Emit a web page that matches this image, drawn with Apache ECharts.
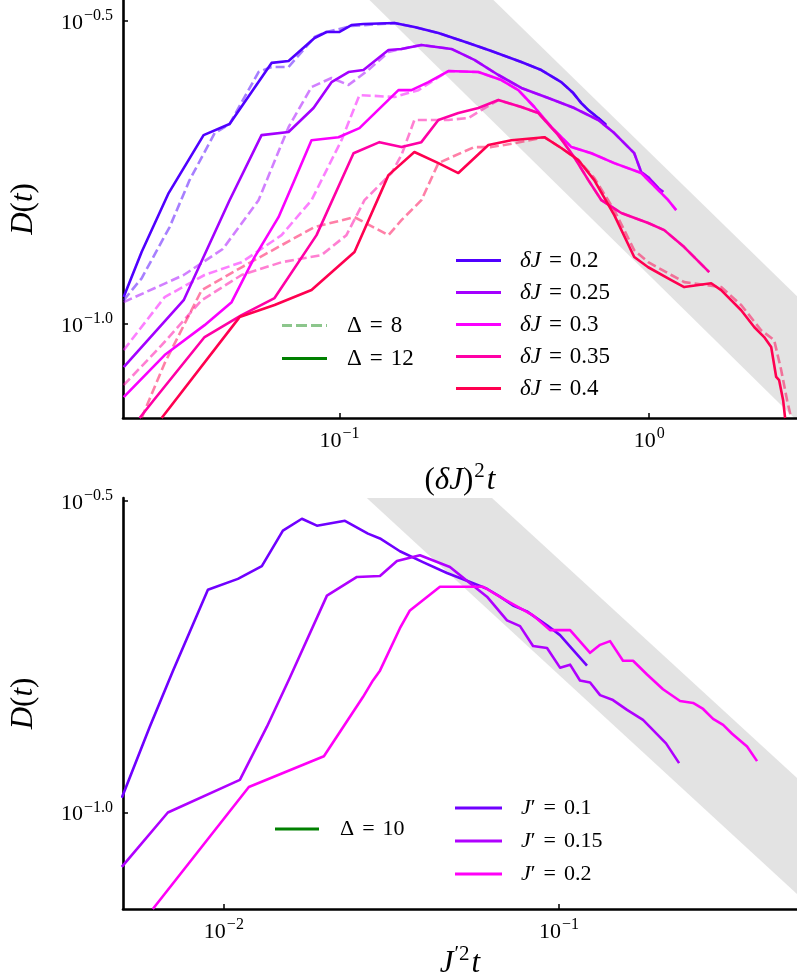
<!DOCTYPE html>
<html><head><meta charset="utf-8">
<script src="https://cdn.jsdelivr.net/npm/echarts@6/dist/echarts.min.js"></script>
<style>html,body{margin:0;padding:0;background:#fff}#c{width:797px;height:980px}</style>
</head><body><div id="c"></div>
<script>
// ---------- tick values ----------
const topXTicks = [0.1, 1];
const topYTicks = [0.1, 0.316228];
const botXTicks = [0.01, 0.1];
const botYTicks = [0.1, 0.316228];

// ---------- shaded bands (vertices, data units) ----------
const topBand = [[0.125,0.3425],[0.314,0.3425],[3.0,0.1112],[3.0,0.07],[2.94,0.07]];
const botBand = [[0.0267,0.3197],[0.0631,0.3197],[0.513,0.1136],[0.513,0.074]];

// ---------- top panel, Delta = 12 (solid) ----------
const s02 = [[0.0201,0.1108],[0.02297,0.1315],[0.02808,0.1645],[0.03641,0.2050],[0.04417,0.2138],[0.06035,0.2697],[0.06848,0.2716],[0.08307,0.2965],[0.0908,0.3033],[0.1,0.3033],[0.1093,0.3114],[0.1195,0.3126],[0.1505,0.3138],[0.1745,0.3091],[0.2086,0.3021],[0.2607,0.2909],[0.3093,0.2822],[0.3865,0.2706],[0.4482,0.2625],[0.52,0.2507],[0.5685,0.2405],[0.6035,0.2315],[0.6359,0.2255],[0.6847,0.2188],[0.7267,0.2130]];
const s025 = [[0.0201,0.0849],[0.0314,0.1095],[0.04417,0.1601],[0.05602,0.2050],[0.06848,0.2074],[0.08244,0.2272],[0.09424,0.2507],[0.1069,0.2605],[0.1195,0.2625],[0.1439,0.2833],[0.1585,0.2844],[0.1838,0.2887],[0.2298,0.2844],[0.2726,0.2728],[0.3258,0.2576],[0.3865,0.2452],[0.4723,0.2360],[0.5728,0.2272],[0.6847,0.2171],[0.7712,0.2066],[0.8946,0.1914],[0.9423,0.1781],[0.9926,0.1747],[1.069,0.1677],[1.110,0.1652]];
const s03 = [[0.0201,0.0758],[0.02726,0.0889],[0.03668,0.0996],[0.04484,0.1087],[0.05318,0.1290],[0.06355,0.1501],[0.0716,0.1728],[0.08122,0.2011],[0.09926,0.2034],[0.1160,0.2105],[0.1550,0.2432],[0.1707,0.2432],[0.1937,0.2507],[0.2247,0.2615],[0.2808,0.2605],[0.3333,0.2527],[0.3780,0.2432],[0.4256,0.2281],[0.4833,0.2113],[0.5608,0.1959],[0.6506,0.1914],[0.7712,0.1843],[0.9423,0.1775],[1.152,0.1601],[1.222,0.1542]];
const s035 = [[0.02263,0.07],[0.02512,0.0749],[0.03668,0.0952],[0.0483,0.1035],[0.06171,0.1104],[0.08431,0.1402],[0.1110,0.1914],[0.1346,0.1996],[0.1585,0.1959],[0.1838,0.1996],[0.2086,0.2171],[0.2420,0.2229],[0.2808,0.2272],[0.3258,0.2342],[0.3865,0.2281],[0.4385,0.2229],[0.5086,0.2050],[0.5728,0.1885],[0.6359,0.1728],[0.7008,0.1601],[0.8123,0.1525],[0.9926,0.1468],[1.118,0.1429],[1.297,0.1340],[1.562,0.1218]];
const s04 = [[0.02666,0.07],[0.04758,0.1027],[0.06171,0.1075],[0.08122,0.1138],[0.1118,0.1315],[0.1439,0.1761],[0.1745,0.1923],[0.2086,0.1843],[0.2420,0.1775],[0.3024,0.1974],[0.3590,0.2011],[0.4585,0.2034],[0.52,0.1952],[0.5902,0.1865],[0.6646,0.1728],[0.7712,0.1513],[0.8946,0.1290],[0.9926,0.1241],[1.178,0.1182],[1.297,0.1151],[1.585,0.1168],[1.707,0.1138],[1.981,0.1054],[2.182,0.0989],[2.350,0.0952],[2.476,0.0917],[2.570,0.0818],[2.627,0.0808],[2.706,0.0749],[2.746,0.07]];

// ---------- top panel, Delta = 8 (dashed) ----------
const d02 = [[0.0201,0.1095],[0.02297,0.1190],[0.02829,0.1446],[0.03281,0.1728],[0.03953,0.2066],[0.04417,0.2138],[0.05478,0.2605],[0.06035,0.2655],[0.06848,0.2655],[0.08307,0.2976],[0.0908,0.3033],[0.1093,0.3102],[0.1505,0.3138],[0.1745,0.3091],[0.2086,0.3021],[0.2607,0.2909],[0.3093,0.2822],[0.3865,0.2706],[0.4482,0.2625],[0.52,0.2507],[0.5685,0.2405],[0.6035,0.2315],[0.6359,0.2255],[0.6847,0.2188],[0.7267,0.2130]];
const d025 = [[0.0201,0.1087],[0.0314,0.1205],[0.0420,0.1330],[0.05478,0.1601],[0.06848,0.2113],[0.08122,0.2461],[0.09424,0.2547],[0.1069,0.2480],[0.1240,0.2625],[0.1439,0.2811],[0.1585,0.2844],[0.1838,0.2887],[0.2298,0.2844],[0.2726,0.2728],[0.3258,0.2576],[0.3865,0.2452],[0.4723,0.2360],[0.5728,0.2272],[0.6847,0.2171],[0.7712,0.2066],[0.8946,0.1914],[0.9423,0.1781],[0.9926,0.1747],[1.069,0.1677],[1.110,0.1652]];
const d03 = [[0.0201,0.0906],[0.02726,0.1108],[0.03668,0.1205],[0.0483,0.1265],[0.065,0.1402],[0.08122,0.1601],[0.1015,0.2011],[0.1160,0.2387],[0.1505,0.2369],[0.1799,0.2432],[0.2247,0.2615],[0.2808,0.2605],[0.3333,0.2527],[0.3780,0.2432],[0.4256,0.2281],[0.4833,0.2113],[0.5608,0.1959],[0.6506,0.1914],[0.7712,0.1843],[0.9423,0.1775],[1.152,0.1601],[1.222,0.1542]];
const d035 = [[0.0201,0.0793],[0.02666,0.0923],[0.0359,0.1095],[0.0483,0.1205],[0.065,0.1265],[0.0875,0.1300],[0.1053,0.1402],[0.1204,0.1601],[0.1472,0.1775],[0.1585,0.1900],[0.1745,0.2171],[0.2247,0.2171],[0.2607,0.2188],[0.2872,0.2255],[0.3258,0.2342],[0.3865,0.2281],[0.4385,0.2229],[0.5086,0.2050],[0.5728,0.1885],[0.6359,0.1728],[0.7008,0.1601],[0.8123,0.1525],[0.9926,0.1468],[1.118,0.1429],[1.297,0.1340],[1.562,0.1218]];
const d04 = [[0.02297,0.07],[0.02726,0.0862],[0.0359,0.1138],[0.0483,0.1241],[0.08307,0.1446],[0.1118,0.1501],[0.1439,0.1402],[0.1585,0.1484],[0.1838,0.1601],[0.2086,0.1843],[0.2298,0.1885],[0.2726,0.1959],[0.3093,0.1959],[0.3668,0.1988],[0.4585,0.2034],[0.52,0.1952],[0.5902,0.1865],[0.6646,0.1742],[0.7712,0.1542],[0.8946,0.1324],[0.9926,0.1265],[1.178,0.1205],[1.297,0.1173],[1.707,0.1151],[1.981,0.1075],[2.298,0.0977],[2.531,0.0941],[2.667,0.0840],[2.787,0.0749],[2.873,0.07]];

// ---------- bottom panel, Delta = 10 ----------
const j01 = [[0.00496,0.1056],[0.00601,0.1373],[0.00705,0.1689],[0.00896,0.2278],[0.01101,0.2371],[0.01298,0.2486],[0.0150,0.2834],[0.01709,0.2961],[0.01895,0.2886],[0.02297,0.2939],[0.02691,0.2803],[0.02922,0.2753],[0.03352,0.2626],[0.03926,0.2522],[0.0463,0.2423],[0.05313,0.2354],[0.06095,0.2286],[0.06665,0.2220],[0.0729,0.2149],[0.08023,0.2103],[0.09209,0.1997],[0.1007,0.1926],[0.1101,0.1824],[0.1212,0.1721]];
const j015 = [[0.00496,0.0818],[0.006805,0.1],[0.01116,0.1128],[0.01344,0.1373],[0.01574,0.1647],[0.0203,0.2229],[0.02495,0.2388],[0.02922,0.2397],[0.03284,0.2532],[0.03846,0.2588],[0.04726,0.2477],[0.05313,0.2354],[0.06095,0.2220],[0.06995,0.2034],[0.0765,0.1991],[0.08366,0.1850],[0.09209,0.1837],[0.1007,0.1708],[0.1079,0.1727],[0.1155,0.1629],[0.1238,0.1617],[0.1326,0.1543],[0.1449,0.1515],[0.1596,0.1461],[0.1781,0.1408],[0.2086,0.1291],[0.2282,0.1200]];
const j02 = [[0.006138,0.07],[0.01187,0.1099],[0.01988,0.1231],[0.026,0.1532],[0.02785,0.1629],[0.02922,0.1689],[0.03352,0.1976],[0.0359,0.2110],[0.04413,0.2303],[0.05932,0.2303],[0.06805,0.2204],[0.08366,0.2072],[0.094,0.1962],[0.1079,0.1962],[0.1238,0.1804],[0.1326,0.1858],[0.142,0.1884],[0.1552,0.1752],[0.1663,0.1752],[0.1831,0.1665],[0.2043,0.1577],[0.2297,0.151],[0.2512,0.1499],[0.2691,0.1466],[0.2882,0.1413],[0.3088,0.1382],[0.3284,0.1338],[0.364,0.1276],[0.3899,0.1209]];

// ---------- labels / colours ----------
const topNames = ['δJ = 0.2','δJ = 0.25','δJ = 0.3','δJ = 0.35','δJ = 0.4'];
const topColors = ['#5000ff','#a400ff','#fa00ff','#ff00a6','#ff0050'];
const topDashColors = ['rgba(80,0,255,0.5)','rgba(164,0,255,0.5)','rgba(250,0,255,0.5)','rgba(255,0,166,0.5)','rgba(255,0,80,0.5)'];
const botNames = ['J′ = 0.1','J′ = 0.15','J′ = 0.2'];
const botColors = ['#7000ff','#b000ff','#ff00f8'];
const deltaTop = ['Δ = 8','Δ = 12'];
const deltaBot = ['Δ = 10'];

const SERIF = "'Liberation Serif','DejaVu Serif',serif";
const SOLID_ICON = 'path://M0,0H45V3H0Z';
const DASH_ICON = 'path://M0,0H10V3H0Z M14,0H25V3H14Z M29,0H40V3H29Z M44,0H45V3H44Z';
const chart = echarts.init(document.getElementById('c'), null, {renderer:'canvas'});

function supLabel(v, dec){
  const e = Math.log10(v);
  let s = dec ? e.toFixed(1) : String(Math.round(e));
  if (s === '-0') s = '0';
  return '{b|10}{e|' + s.replace('-', '−') + '}';
}
const tickRich = {
  b:{fontFamily:SERIF,fontSize:22,color:'#000',verticalAlign:'bottom',lineHeight:26},
  e:{fontFamily:SERIF,fontSize:16,color:'#000',verticalAlign:'bottom',lineHeight:26,padding:[0,0,10,1]}
};
const nameRich = {
  p:{fontFamily:SERIF,fontSize:31,color:'#000',verticalAlign:'bottom',lineHeight:36},
  i:{fontFamily:SERIF,fontStyle:'italic',fontSize:31,color:'#000',verticalAlign:'bottom',lineHeight:36},
  s:{fontFamily:SERIF,fontSize:21,color:'#000',verticalAlign:'bottom',lineHeight:36,padding:[0,2,14,1]}
};
function logAxis(gi, min, max, ticks, dec, name, gap, isY){
  const a = {
    type:'log', logBase:10, gridIndex:gi, min:min, max:max,
    axisLine:{show:true,lineStyle:{color:'#000',width:2.6}},
    axisTick:{show:true,inside:true,length:5,lineStyle:{color:'#000',width:1.5},customValues:ticks},
    axisLabel:{show:true,customValues:ticks,margin:isY?10:8,formatter:(v)=>supLabel(v,dec),rich:tickRich},
    splitLine:{show:false}, minorTick:{show:false},
    name:name, nameLocation:'middle', nameGap:gap, nameTextStyle:{rich:nameRich}
  };
  if (isY) a.nameRotate = 90;
  return a;
}
function lineS(name, data, color, dashed, idx, z){
  return {type:'line', name:name, data:data, xAxisIndex:idx, yAxisIndex:idx, symbol:'none', showSymbol:false,
    clip:true, silent:true, animation:false, z:z,
    lineStyle:{color:color, width:2.6, type: dashed ? [9,4] : 'solid', cap:'butt', join:'round'},
    itemStyle:{color:color, borderWidth:0}};
}
function bandS(vertices, idx){
  return {type:'custom', xAxisIndex:idx, yAxisIndex:idx, data:[[vertices[0][0], vertices[0][1]]], clip:true, silent:true, z:0, animation:false,
    renderItem:(params, api)=>({type:'polygon', shape:{points:vertices.map(p=>api.coord(p))}, style:{fill:'#e3e3e3'}})};
}
function legendFmt(name){
  const parts = name.split(' = ');
  let lhs = parts[0];
  if (lhs === 'δJ') lhs = '{i|δJ}';
  else if (lhs === 'J′') lhs = '{i|J}{n|′}';
  else lhs = '{n|' + lhs + '}';
  return '{g| }' + lhs + '{q|=}{n|' + parts[1] + '}';
}
function legendRich(gap, fs){
  return {
    g:{width:gap, fontSize:10, lineHeight:22},
    i:{fontFamily:SERIF,fontStyle:'italic',fontSize:fs,color:'#000',lineHeight:22},
    n:{fontFamily:SERIF,fontSize:fs,color:'#000',lineHeight:22},
    q:{fontFamily:SERIF,fontSize:fs,color:'#000',lineHeight:22,padding:[0,8,0,8]}
  };
}
function legendC(names, dashedSet, left, top, itemWidth, itemGap, gap, fs){
  return {data:names.map(n=>({name:n, icon: dashedSet.indexOf(n) >= 0 ? DASH_ICON : SOLID_ICON})),
    left:left, top:top, orient:'vertical', itemWidth:itemWidth, itemHeight:3, itemGap:itemGap, symbolKeepAspect:false,
    padding:0, selectedMode:false, formatter:legendFmt, itemStyle:{borderWidth:0}, textStyle:{rich:legendRich(gap, fs)}};
}

const topDashed = [d02,d025,d03,d035,d04];
const topSolid = [s02,s025,s03,s035,s04];
const series = [bandS(topBand,0), bandS(botBand,1)];
topDashed.forEach((d,k)=>series.push(lineS(topNames[k]+' dashed', d, topDashColors[k], true, 0, 2)));
topSolid.forEach((d,k)=>series.push(lineS(topNames[k], d, topColors[k], false, 0, 3)));
[j01,j015,j02].forEach((d,k)=>series.push(lineS(botNames[k], d, botColors[k], false, 1, 3)));
series.push(lineS(deltaTop[0], [], 'rgba(0,128,0,0.45)', true, 0, 3));
series.push(lineS(deltaTop[1], [], '#008000', false, 0, 3));
series.push(lineS(deltaBot[0], [], '#008000', false, 1, 3));

chart.setOption({
  animation:false,
  backgroundColor:'#fff',
  grid:[
    {left:122, right:0, top:0, height:418, containLabel:false},
    {left:122, right:0, top:498, height:417, containLabel:false}
  ],
  xAxis:[
    logAxis(0, 0.02, 3, topXTicks, false, '{p|(}{i|δJ}{p|)}{s|2}{i|t}', 42, false),
    logAxis(1, 0.005, 0.513, botXTicks, false, '{i|J}{s|′2}{i|t}', 34, false)
  ],
  yAxis:[
    logAxis(0, 0.07, 0.3425, topYTicks, true, '{i|D}{p|(}{i|t}{p|)}', 84, true),
    logAxis(1, 0.07, 0.3197, botYTicks, true, '{i|D}{p|(}{i|t}{p|)}', 84, true)
  ],
  legend:[
    legendC(topNames, [], 456, 249, 45, 9, 14, 23),
    legendC(deltaTop, ['Δ = 8'], 282, 314, 45, 10, 15, 23),
    legendC(botNames, [], 455, 797, 47, 11, 14, 22),
    legendC(deltaBot, [], 275, 818, 44, 10, 16, 22)
  ],
  series:series
});
</script>
</body></html>
